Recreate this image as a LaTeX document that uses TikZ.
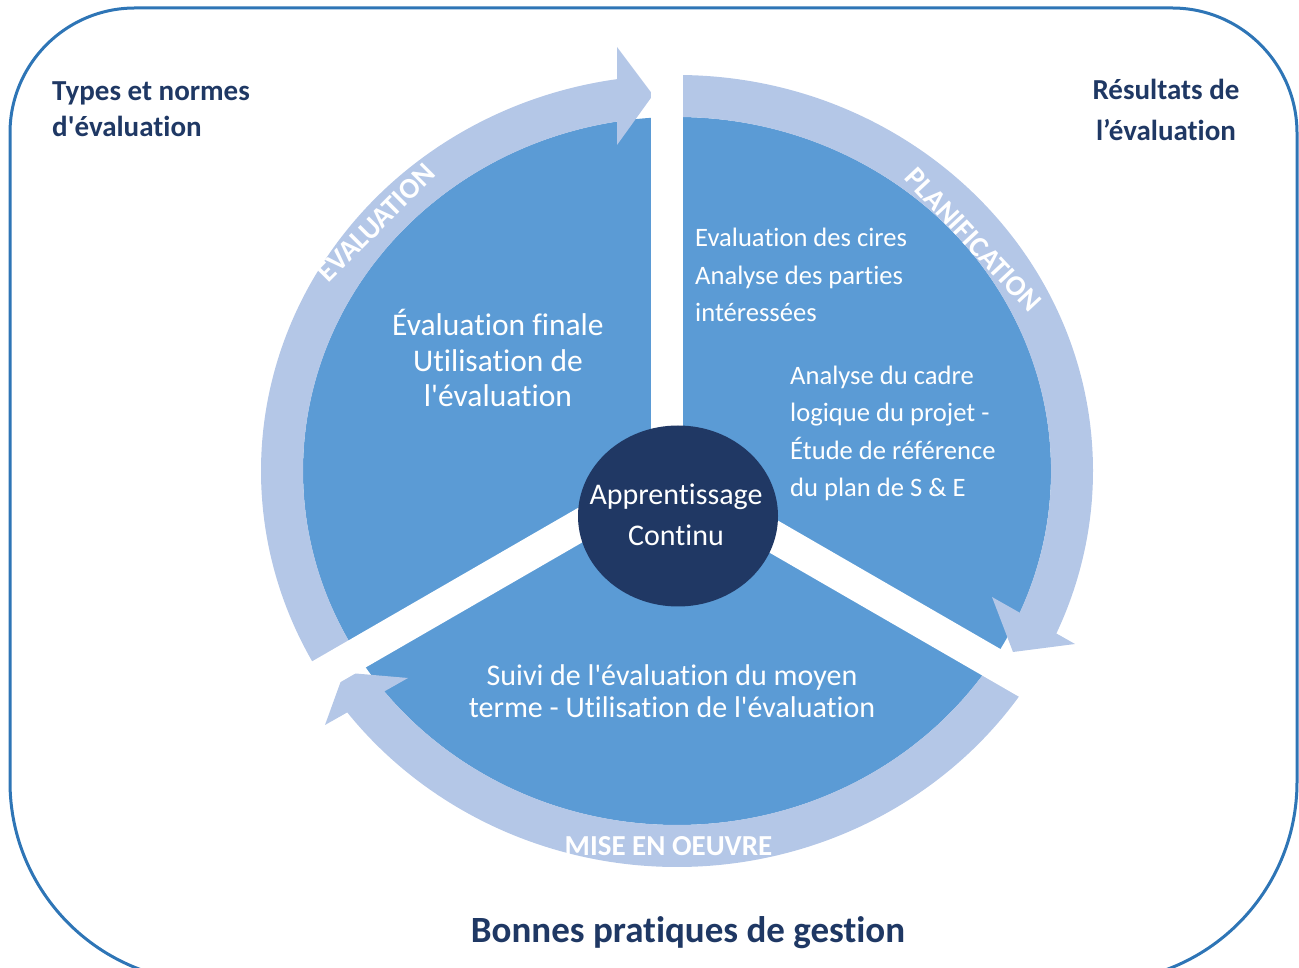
\documentclass[tikz,border=0pt]{standalone}
\usepackage{fontspec}
\setmainfont{Carlito}[Ligatures={TeXOff,NoCommon}]
\usetikzlibrary{calc,shapes.geometric}
\definecolor{secblue}{HTML}{5B9BD5}
\definecolor{ringblue}{HTML}{B4C7E7}
\definecolor{darkblue}{HTML}{203864}
\definecolor{txtblue}{HTML}{1F3864}
\definecolor{framecol}{HTML}{2E75B6}
\begin{document}
\begin{tikzpicture}[x=1pt,y=1pt,
  ringpart/.style={fill=ringblue},
  gapband/.style={draw=white,line width=32pt},
  corner/.style={font=\bfseries\fontsize{29}{35}\selectfont,text=txtblue,inner sep=0pt},
  titletxt/.style={font=\bfseries\fontsize{37}{44}\selectfont,text=txtblue,inner sep=0pt},
  sectxt/.style={font=\fontsize{31.5}{36}\selectfont,text=white,inner sep=0pt},
  midtxt/.style={font=\fontsize{30}{36}\selectfont,text=white,inner sep=0pt},
  smtxt/.style={font=\fontsize{26.6}{32}\selectfont,text=white,inner sep=0pt},
  ringlbl/.style={font=\bfseries\fontsize{29}{35}\selectfont,text=white,inner sep=0pt},
  framestyle/.style={draw=framecol,line width=3pt}]
\useasboundingbox (0,0) rectangle (1299,967);
% frame
\begin{scope}
\clip (0,0) rectangle (1299,967);
\draw[framestyle] (10,185) -- (10,834) arc[start angle=180,end angle=90,radius=125]
  -- (1172,959) arc[start angle=90,end angle=0,radius=125]
  -- (1297,185) arc[start angle=0,end angle=-90,radius=200]
  -- (210,-15) arc[start angle=270,end angle=180,radius=200] -- cycle;
\end{scope}
\coordinate (O) at (677,496);
\coordinate (G) at (667,492);
% sectors
\fill[secblue] (O) ellipse [x radius=374, y radius=354];
% ring shafts
\fill[ringpart] ($(O)+(211:416 and 396)$) arc[start angle=211,end angle=97.5,x radius=416,y radius=396]
  -- ($(O)+(97.5:374 and 354)$) arc[start angle=97.5,end angle=211,x radius=374,y radius=354] -- cycle;
\fill[ringpart] ($(O)+(91:416 and 396)$) arc[start angle=91,end angle=-25.5,x radius=416,y radius=396]
  -- ($(O)+(-25.5:374 and 354)$) arc[start angle=-25.5,end angle=91,x radius=374,y radius=354] -- cycle;
\fill[ringpart] ($(O)+(-32:416 and 396)$) arc[start angle=-32,end angle=-143.5,x radius=416,y radius=396]
  -- ($(O)+(-143.5:374 and 354)$) arc[start angle=-143.5,end angle=-32,x radius=374,y radius=354] -- cycle;
% arrowheads
\coordinate (a1b1) at (617,920); \coordinate (a1t) at (653,872); \coordinate (a1b2) at (617,822);
\coordinate (a2b1) at (992,370); \coordinate (a2t) at (1013,315); \coordinate (a2b2) at (1075,323);
\coordinate (a3b1) at (408,289); \coordinate (a3t) at (344,294.5); \coordinate (a3b2) at (325,242);
\fill[ringpart] (a1b1) -- (a1t) -- (a1b2) -- cycle;
\fill[ringpart] (a2b1) -- (a2t) -- (a2b2) -- cycle;
\fill[ringpart] (a3b1) -- (a3t) -- (a3b2) -- cycle;
% gaps
\coordinate (g1) at ($(G)+(90:440)$);
\coordinate (g2) at ($(G)+(210:470)$);
\coordinate (g3) at ($(G)+(330:470)$);
\draw[gapband] (G) -- (g1);
\draw[gapband] (G) -- (g2);
\draw[gapband] (G) -- (g3);
% centre
\node[ellipse,fill=darkblue,minimum width=200pt,minimum height=181pt,inner sep=0pt] (centre) at (678,451) {};
\node[midtxt,anchor=base] (c1) at (676,462.5) {Apprentissage};
\node[midtxt,anchor=base] (c2) at (676,421.5) {Continu};
% left sector
\node[sectxt,anchor=base] (l1) at (498,631) {Évaluation finale};
\node[sectxt,anchor=base] (l2) at (498,595.5) {Utilisation de};
\node[sectxt,anchor=base] (l3) at (498,560) {l'évaluation};
% right sector
\node[smtxt,anchor=base west] (r1) at (695,720) {Evaluation des cires};
\node[smtxt,anchor=base west] (r2) at (695,682) {Analyse des parties};
\node[smtxt,anchor=base west] (r3) at (695,645) {intéressées};
\node[smtxt,anchor=base west] (r4) at (790,582) {Analyse du cadre};
\node[smtxt,anchor=base west] (r5) at (790,545) {logique du projet -};
\node[smtxt,anchor=base west] (r6) at (790,507) {Étude de référence};
\node[smtxt,anchor=base west] (r7) at (790,470) {du plan de S \& E};
% bottom sector
\node[midtxt,anchor=base] (b1) at (672,281) {Suivi de l'évaluation du moyen};
\node[midtxt,anchor=base] (b2) at (672,249) {terme - Utilisation de l'évaluation};
% ring labels
\node[ringlbl,rotate=45] (rl1) at (376,744) {EVALUATION};
\node[ringlbl,rotate=-47] (rl2) at (973,727) {PLANIFICATION};
\node[ringlbl,anchor=base] (rl3) at (668.5,111) {MISE EN OEUVRE};
% corner labels
\node[corner,anchor=base west] (tl1) at (52,866) {Types et normes};
\node[corner,anchor=base west] (tl2) at (52,830) {d'évaluation};
\node[corner,anchor=base] (tr1) at (1166,867) {Résultats de};
\node[corner,anchor=base] (tr2) at (1166,826) {l’évaluation};
\node[titletxt,anchor=base] (bt) at (688,24) {Bonnes pratiques de gestion};
\end{tikzpicture}
\end{document}
